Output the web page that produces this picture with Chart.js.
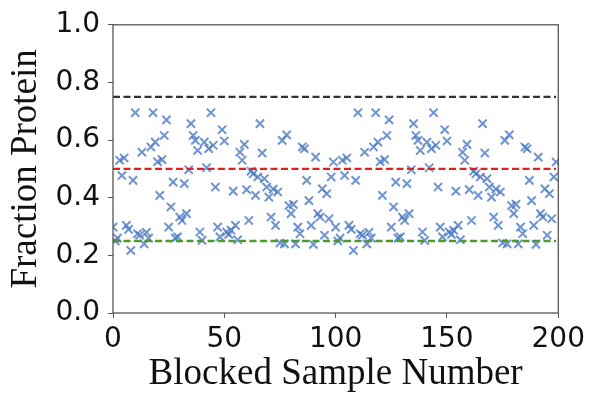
<!DOCTYPE html>
<html>
<head>
<meta charset="utf-8">
<script src="https://cdn.jsdelivr.net/npm/chart.js@4.4.1/dist/chart.umd.min.js"></script>
<style>
  html, body { margin: 0; padding: 0; background: #fff; }
  #wrap { width: 590px; height: 394px; position: relative; }
</style>
</head>
<body>
<div id="wrap"><canvas id="chart" width="590" height="394"></canvas></div>
<script>
  // fraction protein per blocked sample, samples 0-99
  const firstBlock = [
    0.298, 0.25, 0.26, 0.53, 0.477, 0.538, 0.304, 0.29, 0.217, 0.46,
    0.695, 0.275, 0.27, 0.558, 0.24, 0.28, 0.26, 0.576, 0.695, 0.593,
    0.525, 0.408, 0.532, 0.616, 0.67, 0.298, 0.368, 0.454, 0.26, 0.264,
    0.333, 0.321, 0.449, 0.345, 0.497, 0.657, 0.616, 0.599, 0.564, 0.281,
    0.252, 0.593, 0.504, 0.57, 0.695, 0.582, 0.437, 0.298, 0.264, 0.636,
    0.597, 0.281, 0.273, 0.287, 0.423, 0.304, 0.254, 0.558, 0.53, 0.585,
    0.428, 0.321, 0.492, 0.483, 0.408, 0.472, 0.657, 0.555, 0.466, 0.437,
    0.402, 0.333, 0.43, 0.304, 0.42, 0.243, 0.599, 0.24, 0.618, 0.373,
    0.345, 0.377, 0.24, 0.298, 0.275, 0.576, 0.57, 0.46, 0.39, 0.304,
    0.238, 0.541, 0.345, 0.333, 0.431, 0.27, 0.414, 0.327, 0.472, 0.524
  ];
  // samples 100-199 (same blocks come round again)
  const secondBlock = [
    0.298, 0.25, 0.26, 0.53, 0.477, 0.538, 0.304, 0.29, 0.217, 0.46,
    0.695, 0.275, 0.27, 0.558, 0.24, 0.28, 0.26, 0.576, 0.695, 0.593,
    0.525, 0.408, 0.532, 0.616, 0.67, 0.298, 0.368, 0.454, 0.26, 0.264,
    0.333, 0.321, 0.449, 0.345, 0.497, 0.657, 0.616, 0.599, 0.564, 0.281,
    0.252, 0.593, 0.504, 0.57, 0.695, 0.582, 0.437, 0.298, 0.264, 0.636,
    0.597, 0.281, 0.273, 0.287, 0.423, 0.304, 0.254, 0.558, 0.53, 0.585,
    0.428, 0.321, 0.492, 0.483, 0.408, 0.472, 0.657, 0.555, 0.466, 0.437,
    0.402, 0.333, 0.43, 0.304, 0.42, 0.243, 0.599, 0.24, 0.618, 0.373,
    0.345, 0.377, 0.24, 0.298, 0.275, 0.576, 0.57, 0.46, 0.39, 0.304,
    0.238, 0.541, 0.345, 0.333, 0.431, 0.27, 0.414, 0.327, 0.472, 0.524
  ];

  const refLevels = [0.75, 0.5, 0.25];
  const refColors = ['#333333', '#e0201c', '#4f9a2e'];
  const xTicks = [0, 50, 100, 150, 200];
  const yTicks = [0.0, 0.2, 0.4, 0.6, 0.8, 1.0];

  const fractions = firstBlock.concat(secondBlock);
  const points = fractions.map((v, i) => ({ x: i, y: v }));
  const lastX = fractions.length - 1;

  const refSets = refLevels.map((lvl, i) => ({
    type: 'line',
    data: [{ x: 0, y: lvl }, { x: lastX, y: lvl }],
    borderColor: refColors[i],
    borderWidth: 2.4,
    borderDash: [7, 3.5],
    pointRadius: 0,
    fill: false,
    order: 0
  }));

  const framePlugin = {
    id: 'frame',
    afterDraw(chart) {
      const a = chart.chartArea;
      const ctx = chart.ctx;
      ctx.save();
      ctx.strokeStyle = '#555';
      ctx.lineWidth = 1.3;
      ctx.strokeRect(a.left, a.top, a.right - a.left, a.bottom - a.top);
      ctx.restore();
    }
  };

  const tickFont = { family: 'DejaVu Sans', size: 28 };
  const titleFont = { family: 'Liberation Serif', size: 37, lineHeight: 1 };

  new Chart(document.getElementById('chart'), {
    type: 'scatter',
    data: {
      datasets: [
        {
          data: points,
          pointStyle: 'crossRot',
          pointRadius: 5.8,
          borderWidth: 2,
          borderColor: 'rgba(70, 118, 195, 0.78)',
          backgroundColor: 'rgba(70, 118, 195, 0.78)',
          order: 1
        },
        ...refSets
      ]
    },
    options: {
      responsive: false,
      animation: false,
      layout: { padding: { left: 0, right: 31, top: 23, bottom: 0 } },
      plugins: { legend: { display: false }, tooltip: { enabled: false } },
      scales: {
        x: {
          type: 'linear',
          min: 0,
          max: 200,
          afterBuildTicks: (s) => { s.ticks = xTicks.map((v) => ({ value: v })); },
          afterFit: (s) => { s.height = 81; },
          ticks: { font: tickFont, color: '#111', padding: 5, maxRotation: 0 },
          grid: { drawOnChartArea: false, drawTicks: true, tickLength: 5, color: '#555' },
          border: { display: false },
          title: { display: true, text: 'Blocked Sample Number', font: titleFont, color: '#111', padding: { top: 0, bottom: 1 } }
        },
        y: {
          min: 0,
          max: 1,
          afterBuildTicks: (s) => { s.ticks = yTicks.map((v) => ({ value: v })); },
          afterFit: (s) => { s.width = 113; },
          ticks: { font: tickFont, color: '#111', padding: 8, callback: (v) => v.toFixed(1) },
          grid: { drawOnChartArea: false, drawTicks: true, tickLength: 5, color: '#555' },
          border: { display: false },
          title: { display: true, text: 'Fraction Protein', font: titleFont, color: '#111', padding: { top: 8, bottom: 0 } }
        }
      }
    },
    plugins: [framePlugin]
  });
</script>
</body>
</html>
